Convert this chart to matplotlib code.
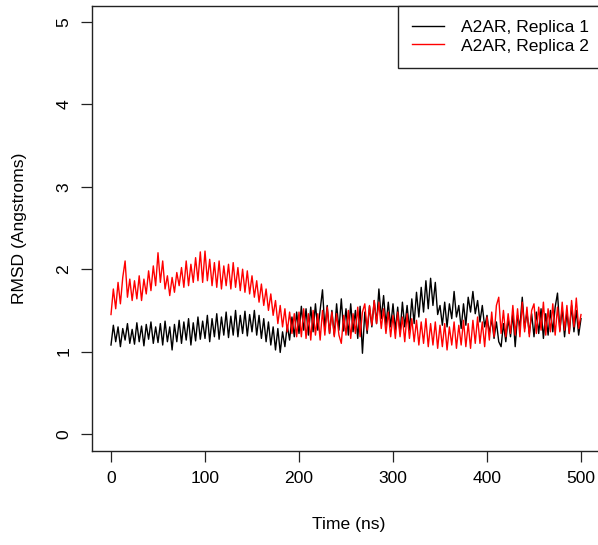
import numpy as np
import matplotlib
matplotlib.use("Agg")
from matplotlib import pyplot as plt

plt.rcParams['font.family'] = ['Liberation Sans', 'DejaVu Sans']

# RMSD values (Angstroms), one every 2.5 ns from 0 to 500 ns
replica_1 = [
    1.08, 1.32, 1.12, 1.30, 1.06, 1.28, 1.14, 1.34, 1.10, 1.27,
    1.09, 1.35, 1.12, 1.31, 1.07, 1.33, 1.15, 1.36, 1.10, 1.30,
    1.11, 1.34, 1.08, 1.37, 1.12, 1.30, 1.02, 1.33, 1.12, 1.38,
    1.10, 1.36, 1.14, 1.40, 1.08, 1.35, 1.13, 1.42, 1.15, 1.37,
    1.16, 1.44, 1.12, 1.40, 1.18, 1.46, 1.15, 1.42, 1.20, 1.48,
    1.17, 1.43, 1.20, 1.50, 1.18, 1.44, 1.22, 1.49, 1.19, 1.45,
    1.24, 1.50, 1.20, 1.44, 1.16, 1.40, 1.12, 1.36, 1.08, 1.30,
    1.02, 1.28, 0.99, 1.24, 1.06, 1.32, 1.14, 1.42, 1.18, 1.48,
    1.22, 1.55, 1.26, 1.52, 1.20, 1.54, 1.24, 1.58, 1.26, 1.50,
    1.75, 1.28, 1.56, 1.22, 1.50, 1.20, 1.58, 1.26, 1.64, 1.25,
    1.52, 1.20, 1.58, 1.24, 1.50, 1.16, 1.55, 0.98, 1.48, 1.22,
    1.55, 1.30, 1.62, 1.34, 1.76, 1.40, 1.68, 1.32, 1.60, 1.30,
    1.58, 1.26, 1.54, 1.22, 1.60, 1.30, 1.56, 1.26, 1.64, 1.34,
    1.72, 1.42, 1.78, 1.48, 1.86, 1.52, 1.89, 1.56, 1.84, 1.45,
    1.56, 1.32, 1.60, 1.30, 1.58, 1.40, 1.73, 1.42, 1.56, 1.28,
    1.58, 1.32, 1.66, 1.48, 1.73, 1.46, 1.62, 1.36, 1.56, 1.30,
    1.44, 1.22, 1.40, 1.16, 1.36, 1.12, 1.06, 1.34, 1.12, 1.40,
    1.18, 1.46, 1.06, 1.44, 1.30, 1.66, 1.28, 1.48, 1.22, 1.46,
    1.18, 1.48, 1.22, 1.52, 1.16, 1.46, 1.20, 1.50, 1.24, 1.54,
    1.71, 1.26, 1.52, 1.18, 1.48, 1.22, 1.56, 1.24, 1.50, 1.20,
    1.40,
]

replica_2 = [
    1.45, 1.76, 1.52, 1.84, 1.58, 1.90, 2.10, 1.66, 1.88, 1.62,
    1.86, 1.64, 1.92, 1.62, 1.88, 1.70, 1.98, 1.74, 2.04, 1.80,
    2.20, 1.84, 2.10, 1.76, 1.92, 1.68, 1.90, 1.72, 1.96, 1.80,
    2.02, 1.78, 2.10, 1.80, 2.06, 1.84, 2.14, 1.86, 2.21, 1.84,
    2.22, 1.86, 2.12, 1.80, 2.08, 1.78, 2.10, 1.76, 2.04, 1.80,
    2.06, 1.76, 2.08, 1.78, 2.02, 1.74, 2.00, 1.72, 1.98, 1.70,
    1.92, 1.66, 1.86, 1.60, 1.82, 1.56, 1.76, 1.50, 1.70, 1.44,
    1.62, 1.34, 1.56, 1.30, 1.52, 1.24, 1.48, 1.22, 1.46, 1.18,
    1.48, 1.18, 1.52, 1.16, 1.46, 1.14, 1.50, 1.20, 1.46, 1.14,
    1.50, 1.20, 1.54, 1.22, 1.48, 1.18, 1.46, 1.20, 1.10, 1.44,
    1.20, 1.50, 1.16, 1.46, 1.22, 1.54, 1.18, 1.48, 1.58, 1.26,
    1.56, 1.32, 1.62, 1.34, 1.60, 1.28, 1.52, 1.22, 1.48, 1.18,
    1.44, 1.16, 1.48, 1.18, 1.42, 1.12, 1.46, 1.16, 1.40, 1.12,
    1.38, 1.08, 1.36, 1.10, 1.40, 1.06, 1.34, 1.08, 1.36, 1.04,
    1.32, 1.06, 1.34, 1.02, 1.30, 1.08, 1.36, 1.04, 1.32, 1.08,
    1.38, 1.06, 1.34, 1.04, 1.38, 1.10, 1.42, 1.10, 1.36, 1.06,
    1.42, 1.14, 1.48, 1.18, 1.56, 1.66, 1.22, 1.50, 1.18, 1.46,
    1.22, 1.56, 1.20, 1.52, 1.18, 1.60, 1.24, 1.54, 1.18, 1.50,
    1.58, 1.22, 1.54, 1.26, 1.60, 1.20, 1.52, 1.24, 1.58, 1.20,
    1.54, 1.24, 1.60, 1.26, 1.56, 1.22, 1.62, 1.30, 1.65, 1.28,
    1.45,
]

time_ns = np.linspace(0, 500, len(replica_1))
labels = ["A2AR, Replica 1", "A2AR, Replica 2"]
x_ticks = [0, 100, 200, 300, 400, 500]
y_ticks = [0, 1, 2, 3, 4, 5]

fs = 12.6
W, H = 598, 545
# plot box: x=0 at 111 px, x=500 at 581 px; right edge runs just past the canvas
px_per_ns = (581 - 111) / 500
left_px, right_px = 92.2, 606.0
x_lo = -(111 - left_px) / px_per_ns
x_hi = (right_px - 111) / px_per_ns

fig = plt.figure(figsize=(W / 100, H / 100), dpi=100)
ax = fig.add_axes([left_px / W, (H - 450.5) / H, (right_px - left_px) / W, (450.5 - 5.5) / H])

ax.plot(time_ns, replica_1, color="black", lw=1.0, label=labels[0])
ax.plot(time_ns, replica_2, color="red", lw=1.0, label=labels[1])

ax.set_xlim(x_lo, x_hi)
ax.set_ylim(-0.2, 5.2)
ax.set_xticks(x_ticks)
ax.set_yticks(y_ticks)
ax.tick_params(direction="out", length=8, width=0.9, labelsize=fs, pad=7, colors="#222222")
ax.tick_params(axis="both", labelcolor="black")
for lbl in ax.get_yticklabels():
    lbl.set_rotation(90)
    lbl.set_va("center")
for sp in ax.spines.values():
    sp.set_linewidth(1.0)
    sp.set_color("#222222")
ax.spines["right"].set_visible(False)

ax.set_xlabel("Time (ns)", fontsize=fs, labelpad=22)
ax.set_ylabel("RMSD (Angstroms)", fontsize=fs, labelpad=21)

leg = ax.legend(loc="upper right", bbox_to_anchor=(603 / W, 1 - 5.5 / H),
                bbox_transform=fig.transFigure, borderaxespad=0,
                fancybox=False, framealpha=1, edgecolor="#222222",
                fontsize=fs, handlelength=1.85, handletextpad=0.95,
                labelspacing=0.2, borderpad=0.8)
leg.get_frame().set_linewidth(1.0)

fig.savefig("out.png", dpi=100)
